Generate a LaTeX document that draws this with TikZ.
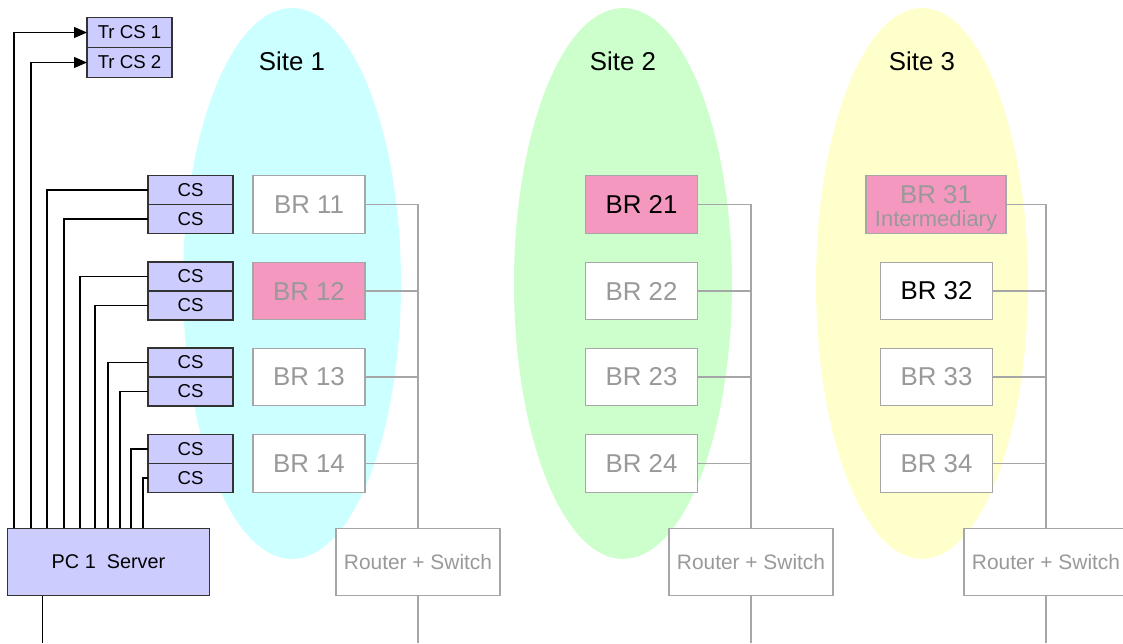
\documentclass[tikz,border=0pt]{standalone}
\usepackage{fontspec}
\setmainfont{Liberation Sans}
\usetikzlibrary{positioning, arrows.meta, shapes.geometric, calc}

\definecolor{siteCyan}{HTML}{CCFFFF}
\definecolor{siteGreen}{HTML}{CCFFCC}
\definecolor{siteYellow}{HTML}{FFFFCC}
\definecolor{brPink}{HTML}{F598C0}
\definecolor{csBlue}{HTML}{CCCCFF}
\definecolor{lineGray}{HTML}{A6A6A6}
\definecolor{textGray}{HTML}{999999}

\begin{document}
\begin{tikzpicture}[
    x=0.02cm, y=-0.02cm,
    >={Triangle[length=0.26cm, width=0.22cm]}, % filled arrow heads
    site/.style={ellipse, draw=none, inner sep=0pt, minimum width=4.36cm, minimum height=11.02cm},
    sitename/.style={font=\fontsize{14.7}{17}\selectfont},
    brbox/.style={draw=lineGray, line width=0.7pt, fill=white, text=textGray, inner sep=0pt,
                  minimum width=2.24cm, minimum height=1.15cm, font=\fontsize{14.7}{17}\selectfont},
    dim/.style={},
    hot/.style={fill=brPink},
    lit/.style={text=black},
    hotlit/.style={hot, lit},
    csbox/.style={draw=black!80, line width=0.8pt, fill=csBlue, inner sep=0pt, outer sep=0pt,
                  minimum width=1.7cm, minimum height=0.58cm, font=\fontsize{10.6}{12}\selectfont},
    router/.style={draw=lineGray, line width=0.7pt, fill=white, text=textGray, inner sep=0pt, outer sep=0pt,
                   minimum width=3.28cm, minimum height=1.35cm, font=\fontsize{11.9}{14}\selectfont},
    wire/.style={line width=0.6pt},
    bus/.style={draw=lineGray, line width=0.7pt}
]
    % --- frame ---
    \useasboundingbox (0,0) rectangle (1123,643);
    \clip (0,0) rectangle (1123,643);

    % --- sites (background ellipses) ---
    \node[site, fill=siteCyan] (site1) at (292,283.5) {};
    \node[site, fill=siteGreen] (site2) at (623,283.5) {};
    \node[site, fill=siteYellow, minimum width=4.24cm] (site3) at (922,283.5) {};
    \node[sitename] (name1) at (292,61) {Site 1};
    \node[sitename] (name2) at (623,61) {Site 2};
    \node[sitename] (name3) at (922,61) {Site 3};

    % --- BR boxes ---
    \foreach \r/\y/\look in {1/204.5/dim, 2/291/hot, 3/377/dim, 4/463.5/dim}
        \node[brbox, \look] (b1\r) at (309,\y) {BR 1\r};
    \foreach \r/\y/\look in {1/204.5/hotlit, 2/291/dim, 3/377/dim, 4/463.5/dim}
        \node[brbox, \look] (b2\r) at (641.5,\y) {BR 2\r};
    \node[brbox, hot, minimum width=2.8cm, align=center] (b31) at (936,204.5)
        {\rule{0pt}{15pt}BR 31\\[-4pt]{\fontsize{12.5}{14}\selectfont Intermediary}};
    \foreach \r/\y/\look in {2/291/lit, 3/377/dim, 4/463.5/dim}
        \node[brbox, \look] (b3\r) at (936.5,\y) {BR 3\r};

    % --- routers ---
    \node[router] (rs1) at (418,562) {Router + Switch};
    \node[router] (rs2) at (751,562) {Router + Switch};
    \node[router] (rs3) at (1046,562) {Router + Switch};

    % --- bus lines to the routers ---
    \foreach \c in {1,2,3} {
        \draw[bus] (b\c1.east) -| (rs\c.north);
        \foreach \r in {2,3,4}
            \draw[bus] (b\c\r.east) -- (b\c\r.east -| rs\c.north);
        \draw[bus] (rs\c.south) -- ++(0,47);
    }

    % --- CS boxes, in pairs beside the BR rows ---
    \foreach \r/\y in {1/204.5, 2/291, 3/377, 4/463.5} {
        \node[csbox, anchor=south] (cs\r1) at (190.5,\y) {CS};
        \node[csbox, anchor=north] (cs\r2) at (190.5,\y) {CS};
    }
    \node[csbox, minimum height=0.6cm] (tr1) at (129.5,32.5) {Tr CS 1};
    \node[csbox, minimum height=0.6cm, anchor=north] (tr2) at (tr1.south) {Tr CS 2};

    % --- server ---
    \node[csbox, minimum width=4.04cm, minimum height=1.35cm, font=\fontsize{11.3}{13}\selectfont]
        (pc) at (108.5,562) {PC 1~ Server};

    % --- wires from the server ---
    \foreach \dx/\t in {6.5/tr1, 23.5/tr2}
        \draw[wire, ->] ($(pc.north west)+(\dx,0)$) |- (\t.west);
    \foreach \dx/\t in {39.5/cs11, 56.5/cs12, 72.5/cs21, 87.5/cs22, 100.5/cs31, 112.5/cs32, 123.5/cs41, 135.5/cs42}
        \draw[wire] ($(pc.north west)+(\dx,0)$) |- (\t.west);
    \draw[wire] ($(pc.south west)+(35,0)$) -- ++(0,47);
\end{tikzpicture}
\end{document}
